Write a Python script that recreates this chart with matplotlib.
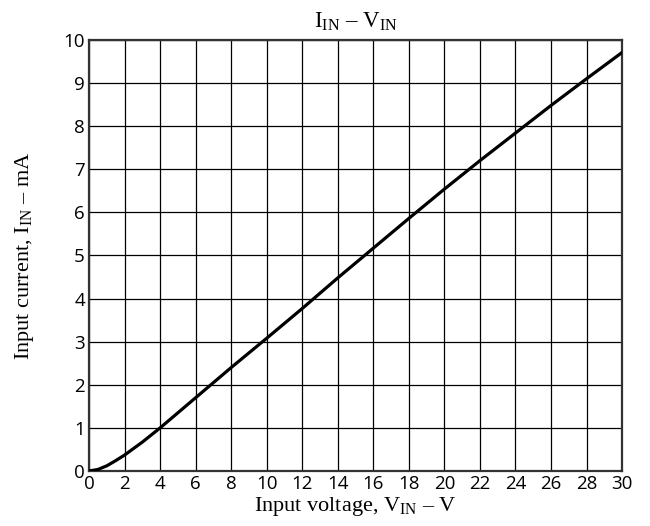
import numpy as np
import matplotlib.pyplot as plt

plt.rcParams['mathtext.fontset'] = 'custom'
plt.rcParams['mathtext.rm'] = 'Liberation Serif'

# Input voltage (V) and input current (mA)
v_in = [0, 0.5, 1, 1.5, 2, 3, 4, 5, 6, 8, 10, 12, 14, 16, 18, 20, 22, 24,
        26, 28, 30]
i_in = [0, 0.035, 0.12, 0.24, 0.37, 0.67, 1.0, 1.35, 1.7, 2.4, 3.08, 3.77,
        4.48, 5.17, 5.86, 6.54, 7.2, 7.84, 8.48, 9.1, 9.71]

x_ticks = list(range(0, 31, 2))
y_ticks = list(range(0, 11))

fig = plt.figure(figsize=(6.5, 5.26), dpi=100)
ax = fig.add_axes([0.137, 0.1046, 0.820, 0.8194])

ax.plot(v_in, i_in, color='black', lw=2.3, solid_capstyle='round', zorder=3)

ax.set_xlim(0, 30)
ax.set_ylim(0, 10)
ax.set_xticks(x_ticks)
ax.set_yticks(y_ticks)
ax.grid(True, color='black', lw=0.9)
ax.tick_params(length=0, pad=3, labelsize=13.5)
for lab in ax.get_xticklabels() + ax.get_yticklabels():
    lab.set_family('Open Sans')
for s in ax.spines.values():
    s.set_linewidth(1.6)
    s.set_color('#333333')

serif = 'Liberation Serif'
ax.set_title(r'I$_{\rm IN}$ – V$_{\rm IN}$', family=serif, fontsize=16.5, pad=9)
ax.set_xlabel(r'Input voltage, V$_{\rm IN}$ – V', family=serif, fontsize=16, labelpad=1)
ax.set_ylabel(r'Input current, I$_{\rm IN}$ – mA', family=serif, fontsize=16, labelpad=20)

fig.savefig('out.png', dpi=100)
